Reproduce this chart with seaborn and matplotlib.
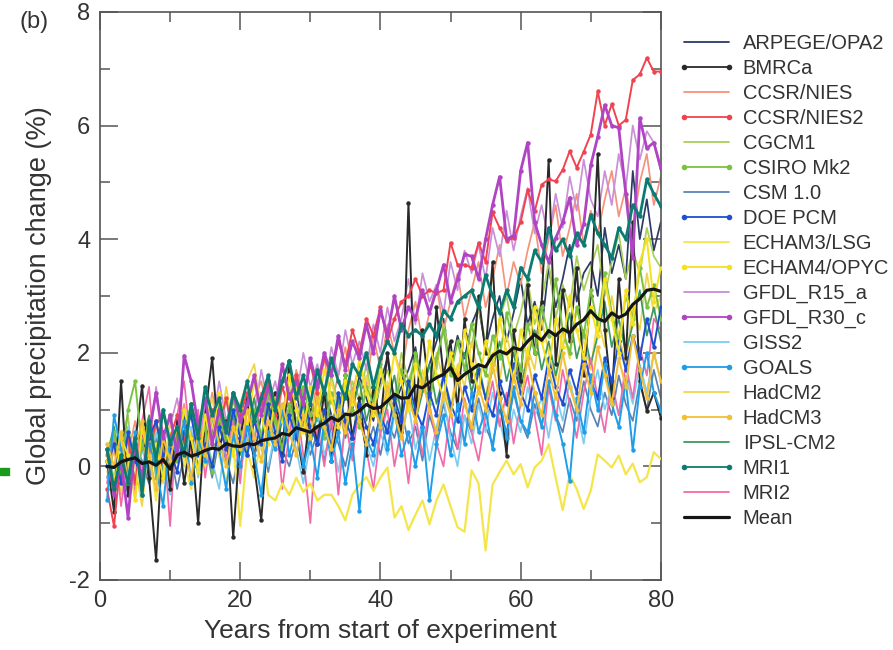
import matplotlib
matplotlib.use('Agg')
import matplotlib.pyplot as plt
import seaborn as sns
from matplotlib.lines import Line2D
from matplotlib.patches import Rectangle
from matplotlib.ticker import MultipleLocator

sns.set_style('ticks')
plt.rcParams['font.family'] = ['Liberation Sans', 'DejaVu Sans']
plt.rcParams['axes.unicode_minus'] = False

years = list(range(1, 81))

models = ['ARPEGE/OPA2', 'BMRCa', 'CCSR/NIES', 'CCSR/NIES2', 'CGCM1', 'CSIRO Mk2',
          'CSM 1.0', 'DOE PCM', 'ECHAM3/LSG', 'ECHAM4/OPYC', 'GFDL_R15_a', 'GFDL_R30_c',
          'GISS2', 'GOALS', 'HadCM2', 'HadCM3', 'IPSL-CM2', 'MRI1', 'MRI2', 'Mean']

colors = ['#2b3a67', '#2a2a2a', '#f6927a', '#f2424f', '#a9cf5a', '#7cc242',
          '#5a83b5', '#1f4fd1', '#f4e64a', '#f6e21c', '#c98fd8', '#b044c2',
          '#7dcdf0', '#1e9de8', '#efd54a', '#f3bf35', '#3c9a60', '#0c7c73', '#f26aa9', '#151515']

with_marker = [False, True, False, True, False, True, False, True, False, True,
               False, True, False, True, False, True, False, True, False, False]

arpege = [0.2, 0.6, -0.2, 0.3, 0.1, 0.8, -0.3, 0.4, 0.6, 0.0,
          0.5, 0.9, 0.2, -0.1, 0.7, 0.4, 1.0, 0.3, 0.6, 1.1,
          0.5, 0.2, 0.9, 1.2, 0.6, 0.4, 1.0, 1.3, 0.7, 1.1,
          0.8, 1.4, 0.9, 0.6, 1.3, 1.0, 1.6, 1.2, 0.8, 1.5,
          1.9, 1.1, 1.4, 1.7, 2.1, 1.3, 1.8, 2.2, 2.6, 1.7,
          2.3, 1.9, 2.5, 2.8, 2.1, 2.6, 3.0, 2.2, 2.7, 3.3,
          2.5, 2.9, 2.4, 3.5, 2.8, 3.3, 3.9, 2.9, 3.4, 3.6,
          3.0, 4.2, 3.4, 3.9, 3.3, 5.2, 4.0, 4.7, 3.8, 4.3]
bmrca = [0.1, -0.8, 1.5, -0.5, 0.4, 1.42, -0.2, -1.65, 0.6, -0.4,
         0.8, -0.3, 0.5, -1.0, 0.9, 1.91, 0.3, 0.8, -1.25, 0.5,
         1.2, 0.0, -0.95, 0.7, 1.3, 0.2, 1.86, 0.6, -0.1, 1.0,
         0.4, 1.3, 0.1, 0.9, 1.6, 0.5, 1.2, 0.2, 1.4, 0.8,
         2.0, 1.1, 0.6, 4.64, 0.9, 2.4, 1.2, 2.8, 1.6, 2.2,
         1.0, 2.6, 1.5, 3.0, 2.0, 3.6, 1.3, 0.19, 2.4, 1.5,
         3.2, 2.0, 2.9, 5.4, 1.8, 3.1, 2.2, 3.5, 1.6, 3.0,
         5.5, 2.4, 1.2, 3.3, 1.9, 4.3, 1.5, 0.98, 1.3, 0.86]
ccsr = [0.1, -0.5, 0.6, 0.2, 0.8, 0.0, -0.3, 0.7, 1.0, 0.3,
        0.6, 1.1, 0.2, 0.9, 0.5, 1.3, 0.7, 0.4, 1.2, 0.8,
        0.3, 1.2, 1.5, 0.9, 0.6, 1.4, 1.0, 1.7, 1.2, 0.8,
        1.5, 1.9, 1.1, 1.6, 2.1, 1.3, 1.8, 1.4, 2.3, 1.7,
        2.5, 2.0, 1.6, 2.4, 2.9, 2.2, 2.7, 3.2, 2.4, 2.9,
        3.4, 2.6, 3.1, 3.6, 2.8, 3.3, 3.9, 3.0, 3.6, 3.2,
        3.8, 4.3, 3.4, 4.0, 4.6, 3.7, 4.2, 4.8, 3.9, 4.5,
        4.1, 4.7, 5.2, 4.4, 4.9, 4.2, 5.0, 5.5, 4.6, 5.1]
ccsr2 = [-0.4, -1.05, 0.2, 0.5, -0.3, 0.6, 0.2, 0.8, 0.1, 0.5,
         0.9, 0.4, 1.1, 0.6, 0.3, 1.0, 0.7, 1.2, 0.5, 0.9,
         1.3, 0.8, 1.1, 1.5, 0.9, 1.4, 1.0, 1.6, 1.2, 1.8,
         1.3, 1.9, 1.6, 2.2, 1.8, 2.4, 2.0, 2.6, 2.3, 2.8,
         2.2, 2.6, 2.9, 3.0, 3.3, 3.0, 3.1, 3.05, 3.1, 3.94,
         3.55, 3.55, 3.5, 3.94, 3.6, 4.47, 4.2, 3.97, 4.02, 4.3,
         4.86, 4.49, 4.96, 5.05, 5.02, 5.22, 5.55, 5.26, 5.54, 5.84,
         6.6, 6.0, 6.38, 6.0, 6.1, 6.8, 6.9, 7.19, 6.95, 6.95]
cgcm1 = [0.3, -0.2, 0.5, 0.9, -0.4, 0.4, 0.1, 0.8, 0.3, -0.1,
         0.7, 0.2, 1.0, 0.6, 0.1, 0.9, 0.5, 1.2, 0.4, 0.8,
         1.1, 0.5, 1.3, 0.7, 0.3, 1.0, 1.4, 0.8, 1.2, 0.6,
         1.3, 0.9, 1.6, 1.1, 0.7, 1.5, 1.2, 1.8, 1.0, 1.4,
         1.7, 1.2, 2.0, 1.5, 1.9, 1.3, 2.2, 1.7, 2.5, 1.9,
         1.6, 2.4, 2.1, 2.8, 2.2, 1.8, 2.6, 3.0, 2.3, 2.7,
         3.3, 2.5, 2.9, 3.6, 2.6, 3.2, 2.8, 3.7, 3.1, 3.5,
         3.9, 3.0, 3.6, 4.1, 3.3, 3.8, 3.4, 4.2, 3.7, 3.5]
csiro = [0.2, 0.6, -0.1, 1.0, 1.5, 0.3, 0.8, -0.2, 0.5, 0.9,
         0.1, 0.6, 1.1, 0.3, 0.7, -0.1, 0.9, 0.4, 1.2, 0.6,
         0.2, 1.0, 0.5, 1.3, 0.8, 0.3, 1.1, 0.6, 1.4, 0.9,
         1.2, 0.5, 1.3, 0.9, 1.6, 1.0, 0.7, 1.4, 1.1, 1.8,
         1.2, 0.9, 1.7, 1.3, 2.0, 1.5, 1.1, 1.9, 2.4, 1.6,
         2.2, 1.7, 2.5, 2.0, 1.6, 2.3, 1.9, 2.7, 2.1, 1.7,
         2.5, 2.0, 2.8, 2.3, 3.3, 2.4, 2.0, 2.8, 2.3, 3.1,
         2.5, 3.4, 2.7, 2.2, 3.0, 2.6, 3.5, 2.8, 3.2, 2.6]
csm = [-0.2, 0.3, 0.0, -0.5, 0.4, 0.1, -0.3, 0.5, -0.1, 0.3,
       -0.4, 0.2, 0.6, 0.0, 0.4, -0.2, 0.5, 0.1, -0.3, 0.4,
       0.7, 0.2, 0.5, -0.1, 0.6, 0.3, 0.0, 0.5, 0.8, 0.2,
       0.6, 0.1, 0.7, 0.4, 0.0, 0.6, 0.9, 0.3, 0.7, 0.2,
       0.8, 0.5, 1.0, 0.4, 0.7, 0.1, 0.9, 0.5, 1.1, 0.6,
       0.3, 0.9, 0.6, 1.2, 0.7, 0.4, 1.0, 0.6, 1.3, 0.8,
       0.5, 1.1, 0.7, 1.4, 0.9, 0.6, 1.2, 0.8, 1.5, 1.0,
       0.7, 1.3, 0.9, 1.6, 1.1, 0.8, 1.5, 1.0, 1.7, 1.2]
doe = [0.0, 0.4, -0.3, 0.6, 0.1, -0.2, 0.5, 0.8, 0.2, 0.3,
       -0.1, 0.6, 0.9, 0.2, 0.4, 0.0, 0.7, 0.3, 1.0, 0.5,
       0.2, 0.8, 0.4, 1.1, 0.6, 0.1, 0.9, 0.5, 1.2, 0.7,
       0.4, 1.0, 0.3, 1.3, 0.8, 0.5, 1.1, 0.7, 0.4, 0.9,
       0.6, 1.2, 0.8, 1.5, 1.0, 0.7, 1.3, 0.9, 1.6, 1.1,
       0.8, 1.4, 1.0, 1.7, 1.2, 0.9, 1.5, 1.1, 1.8, 1.3,
       1.0, 1.6, 1.2, 1.9, 1.4, 1.1, 1.7, 1.3, 2.0, 1.5,
       1.2, 1.9, 1.5, 2.2, 1.7, 2.3, 1.9, 2.6, 2.1, 2.8]
echam3 = [0.2, -0.3, 0.4, -0.1, 0.6, -0.4, 0.3, -0.6, 0.5, -0.2,
          0.7, 0.1, -0.4, 0.5, 0.0, 0.8, 0.2, -0.3, 0.4, -1.05,
          0.3, -0.2, 0.5, -0.5, -0.6, -0.3, -0.5, -0.2, -0.45, -0.3,
          -0.6, -0.5, -0.5, -0.7, -0.95, -0.5, -0.32, -0.19, -0.43, -0.2,
          -0.02, -0.9, -0.7, -1.12, -0.85, -0.6, -1.02, -0.6, -0.32, -0.7,
          -1.07, -1.15, -0.07, -0.3, -1.48, -0.32, -0.1, 0.1, -0.14, 0.04,
          -0.37, -0.02, 0.1, 0.39, -0.2, -0.77, -0.14, -0.4, -0.75, -0.43,
          0.21, 0.1, -0.02, 0.19, -0.14, 0.05, -0.28, -0.19, 0.25, 0.13]
echam4 = [0.1, -0.4, 0.5, 0.2, -0.6, 0.7, 0.1, 0.4, -0.2, 0.8,
          0.3, 1.0, 0.5, -0.1, 0.9, 0.4, 1.3, 0.6, 0.2, 1.1,
          0.7, 1.5, 0.9, 0.4, 1.2, 0.8, 1.6, 1.0, 0.6, 1.4,
          0.9, 1.7, 1.2, 0.7, 1.5, 1.1, 1.9, 1.3, 0.9, 1.7,
          1.2, 2.0, 1.5, 1.0, 1.8, 1.4, 2.2, 1.6, 1.2, 2.0,
          1.5, 2.4, 1.8, 1.3, 2.2, 1.7, 2.6, 2.0, 1.5, 2.4,
          1.9, 2.8, 2.2, 1.7, 2.6, 2.1, 3.0, 2.4, 1.9, 2.8,
          2.3, 3.3, 2.6, 2.0, 3.1, 2.5, 3.6, 4.0, 2.9, 3.5]
gfdl15 = [0.1, 0.4, -0.3, 0.5, -0.6, 0.8, 0.3, 1.4, 0.4, 0.7,
          1.2, 0.5, 0.9, 0.3, 1.1, 0.7, 1.5, 0.8, 1.2, 0.6,
          1.3, 0.9, 1.7, 1.1, 1.5, 0.9, 1.6, 1.2, 2.0, 1.4,
          1.8, 1.3, 2.1, 1.6, 2.4, 1.8, 2.2, 1.7, 2.5, 2.0,
          2.8, 2.2, 2.6, 3.3, 2.5, 3.4, 2.9, 3.2, 2.7, 3.6,
          3.1, 3.8, 3.4, 3.9, 3.3, 4.2, 3.7, 4.5, 3.8, 4.4,
          4.9, 4.1, 4.6, 4.0, 4.8, 4.2, 5.1, 4.5, 5.4, 4.7,
          4.4, 5.2, 4.6, 5.5, 4.9, 6.0, 5.4, 5.9, 5.7, 5.2]
gfdl30 = [0.3, -0.5, 0.1, -0.9, 0.4, -0.2, 0.6, 1.3, 0.5, 0.9,
          0.2, 1.95, 1.5, 0.7, 1.2, 0.4, 1.0, 0.6, 1.3, 0.8,
          1.1, 1.6, 0.9, 1.4, 1.0, 1.8, 1.2, 1.5, 1.1, 1.9,
          1.4, 2.0, 1.6, 2.3, 1.7, 2.2, 1.9, 2.5, 2.0, 2.76,
          2.3, 3.0, 2.4, 2.8, 2.6, 3.1, 2.7, 3.1, 3.55, 2.9,
          3.3, 3.73, 3.7, 3.3, 4.0, 4.6, 5.1, 4.0, 4.06, 5.2,
          5.7, 4.3, 3.9, 3.6, 4.02, 4.3, 4.73, 3.9, 4.26, 5.3,
          5.8, 6.36, 6.0, 5.96, 4.8, 3.67, 6.13, 5.6, 5.7, 5.25]
giss2 = [0.4, -0.3, 0.1, 0.7, -0.4, 0.3, -0.1, 0.6, 0.0, -0.5,
         0.4, 0.0, 0.7, -0.2, 0.5, 0.1, -0.4, 0.6, 0.2, -0.1,
         0.5, 0.9, 0.3, 0.0, 0.6, 0.2, 0.8, 0.3, -0.3, 0.4,
         0.9, 0.2, 0.6, -0.1, 0.7, 0.3, 1.0, 0.4, 0.0, 0.6,
         0.2, 0.9, 0.5, 1.1, 0.3, 0.8, 0.1, 0.7, 1.2, 0.5,
         0.0, 0.9, 0.4, 1.1, 0.6, 1.3, 0.8, 0.3, 1.0, 0.6,
         1.4, 0.9, 1.2, 0.5, 1.3, 0.8, 1.5, 1.0, 0.4, 1.2,
         1.7, 1.0, 1.4, 0.9, 1.6, 1.1, 1.8, 1.3, 2.0, 1.5]
goals = [-0.6, 0.9, 0.3, -0.2, 0.6, -0.5, 0.4, 0.0, -0.7, 0.5,
         0.2, 0.8, -0.3, 0.5, 0.1, 0.9, 0.3, -0.4, 0.6, 0.0,
         0.7, 0.2, -0.5, 0.6, 0.3, 1.0, 0.2, 0.7, 0.0, 0.5,
         -0.2, 0.8, 0.1, 0.6, -0.3, 0.4, -0.78, 0.5, 0.2, 0.9,
         0.3, 1.0, 0.2, 0.6, 0.0, 0.7, -0.6, 0.4, 0.9, 0.2,
         1.1, 0.4, 1.3, 0.6, 1.0, 0.3, 1.2, 0.5, 1.4, 0.8,
         0.6, 1.3, 0.7, 1.5, 0.9, 0.4, -0.25, 1.2, 0.6, 1.6,
         1.0, 1.8, 1.1, 0.7, 1.5, 0.28, 1.4, 2.0, 1.3, 0.98]
hadcm2 = [-0.1, 0.3, -0.5, 0.4, 0.0, -0.7, 0.5, 0.1, -0.3, 0.6,
          0.2, 1.0, 0.4, -0.1, 0.8, 1.2, 0.5, 1.4, 0.7, 1.1,
          1.5, 1.8, 1.0, 1.3, 0.6, 1.1, 0.7, 1.4, 0.9, 0.4,
          1.2, 0.8, 1.5, 1.0, 0.5, 1.3, 0.9, 1.6, 1.1, 0.7,
          1.5, 1.1, 1.8, 1.3, 0.9, 1.7, 1.2, 2.0, 1.5, 1.0,
          1.8, 1.4, 2.2, 1.6, 1.2, 2.0, 1.5, 2.3, 1.8, 1.3,
          2.1, 1.7, 2.6, 2.0, 1.5, 2.4, 1.9, 2.8, 2.2, 1.7,
          2.6, 2.1, 3.0, 2.3, 1.8, 2.8, 2.4, 3.4, 2.7, 3.0]
hadcm3 = [0.4, 0.0, 0.6, -0.3, 0.3, 0.8, 0.2, -0.4, 0.5, 0.1,
          0.7, 0.3, -0.2, 0.6, 0.2, 0.9, 0.4, 0.0, 0.7, 0.3,
          1.0, 0.5, 0.1, 0.8, 0.4, 1.1, 0.6, 0.2, 0.9, 0.5,
          1.2, 0.7, 0.3, 1.0, 0.6, 1.3, 0.8, 0.4, 1.1, 0.7,
          1.4, 0.9, 0.5, 1.2, 0.8, 1.5, 1.0, 0.6, 1.3, 0.9,
          1.6, 1.1, 0.7, 1.4, 1.0, 1.8, 1.2, 0.8, 1.6, 1.1,
          1.9, 1.3, 0.9, 1.7, 1.2, 2.0, 1.4, 1.0, 1.8, 1.3,
          2.1, 1.6, 1.1, 1.9, 1.4, 2.3, 1.7, 1.2, 2.0, 1.5]
ipsl = [0.2, 0.7, 0.0, 0.5, -0.3, 0.4, 0.9, 0.2, 0.6, -0.1,
        0.5, 1.0, 0.3, 0.8, 0.1, 0.6, 1.1, 0.4, 0.9, 0.2,
        0.7, 1.2, 0.5, 1.0, 0.3, 0.8, 1.3, 0.6, 1.1, 0.4,
        0.9, 1.4, 0.7, 1.2, 0.5, 1.0, 1.5, 0.8, 1.3, 0.6,
        1.1, 1.6, 0.9, 1.4, 0.8, 1.3, 1.8, 1.1, 1.6, 1.0,
        1.5, 2.0, 1.3, 1.8, 1.2, 1.7, 2.2, 1.5, 2.0, 1.4,
        1.9, 2.4, 1.7, 2.2, 1.6, 2.1, 2.7, 1.9, 2.4, 1.8,
        2.3, 2.9, 2.1, 2.6, 2.0, 2.5, 3.1, 2.3, 2.8, 2.2]
mri1 = [0.3, -0.4, 0.2, -0.3, 0.5, -0.5, 0.8, 0.1, 1.0, 0.4,
        0.7, 0.2, 1.1, 0.5, 1.4, 0.9, 1.2, 0.6, 1.3, 1.0,
        1.5, 0.8, 1.2, 1.6, 1.0, 1.5, 1.85, 1.2, 1.6, 1.1,
        1.7, 1.3, 1.9, 1.5, 1.2, 1.8, 1.6, 2.0, 1.4, 1.9,
        2.2, 2.0, 2.5, 2.3, 2.4, 2.3, 2.5, 2.3, 2.74, 2.6,
        2.9, 3.0, 3.1, 2.8, 3.37, 3.0, 2.7, 3.1, 2.8, 3.5,
        3.3, 3.8, 3.6, 4.2, 3.8, 4.0, 3.7, 4.1, 3.9, 4.43,
        4.1, 3.9, 3.67, 4.2, 4.0, 4.6, 4.4, 5.05, 4.8, 4.58]
mri2 = [-0.3, 0.5, -0.7, 0.2, -0.5, 0.8, 1.4, -0.2, 0.6, -1.05,
        0.9, 1.5, 0.3, 1.0, -0.2, 0.7, 1.2, 0.1, 0.8, -0.3,
        1.1, 0.4, 1.3, 0.5, 1.0, -0.4, 0.6, 1.1, 0.2, -1.0,
        0.7, 0.0, 0.9, -0.5, 0.8, 0.1, 1.2, 0.3, -0.4, 0.6,
        1.0, 0.0, 0.7, -0.3, 0.9, 0.2, 1.1, 0.4, 0.0, 1.0,
        0.3, 1.2, 0.6, 0.1, 0.9, 1.5, 0.7, 1.3, 0.4, 1.1,
        1.6, 0.9, 0.2, 1.4, 0.8, 1.7, 1.1, 0.5, 1.3, 1.9,
        1.2, 0.6, 1.5, 0.9, 1.8, 1.2, 2.1, 1.6, 2.6, 2.4]
mean = [0.00, -0.02, 0.08, 0.12, 0.15, 0.05, 0.08, 0.02, 0.12, -0.05,
        0.20, 0.25, 0.18, 0.22, 0.28, 0.32, 0.30, 0.40, 0.36, 0.35,
        0.40, 0.38, 0.45, 0.48, 0.50, 0.58, 0.55, 0.68, 0.64, 0.60,
        0.70, 0.76, 0.86, 0.80, 0.92, 0.90, 0.98, 1.09, 1.02, 1.04,
        1.15, 1.27, 1.20, 1.21, 1.42, 1.38, 1.48, 1.56, 1.62, 1.74,
        1.51, 1.62, 1.70, 1.79, 1.75, 1.95, 2.03, 1.98, 2.09, 2.05,
        2.20, 2.32, 2.22, 2.39, 2.30, 2.42, 2.35, 2.50, 2.58, 2.74,
        2.60, 2.55, 2.70, 2.62, 2.68, 2.85, 2.95, 3.10, 3.12, 3.08]

values = [arpege, bmrca, ccsr, ccsr2, cgcm1, csiro, csm, doe, echam3, echam4,
          gfdl15, gfdl30, giss2, goals, hadcm2, hadcm3, ipsl, mri1, mri2, mean]

text_color = '#333333'
fig = plt.figure(figsize=(8.93, 6.5), dpi=100)
ax = fig.add_axes([0.112, 0.1077, 0.628, 0.874])

handles = []
for name, vals, col, mk in zip(models, values, colors, with_marker):
    if name == 'Mean':
        lw, z = 2.3, 10
    elif name in ('MRI1', 'GFDL_R30_c'):
        lw, z = 2.0, 6
    elif name == 'ECHAM3/LSG':
        lw, z = 1.6, 3
    elif mk:
        lw, z = 1.4, 4
    else:
        lw, z = 1.25, 2
    sns.lineplot(x=years, y=vals, ax=ax, color=col, linewidth=lw,
                 marker='o' if mk else None, markersize=3.2 if mk else 0,
                 markeredgewidth=0, zorder=z, legend=False, errorbar=None)
    handles.append(Line2D([0], [0], color=col, linewidth=lw if name == 'Mean' else 1.3,
                          marker='o' if mk else None, markersize=4, markeredgewidth=0))

ax.set_xlim(0, 80)
ax.set_ylim(-2, 8)
ax.xaxis.set_major_locator(MultipleLocator(20))
ax.xaxis.set_minor_locator(MultipleLocator(10))
ax.yaxis.set_major_locator(MultipleLocator(2))
ax.yaxis.set_minor_locator(MultipleLocator(1))
ax.tick_params(which='both', direction='in', top=True, right=True, color='#555555',
               width=1.1, labelcolor=text_color)
ax.tick_params(which='major', length=13, labelsize=17, pad=7)
ax.tick_params(which='minor', length=7)
for sp in ax.spines.values():
    sp.set_color('#555555')
    sp.set_linewidth(1.2)

ax.set_xlabel('Years from start of experiment', fontsize=19, color=text_color)
ax.set_ylabel('Global precipitation change (%)', fontsize=19.5, color=text_color)
ax.xaxis.set_label_coords(0.5, -0.068)
ax.yaxis.set_label_coords(-0.085, 0.5)

fig.text(0.022, 0.966, '(b)', fontsize=17, color=text_color, va='center', ha='left')
fig.patches.append(Rectangle((0.0, 0.269), 0.0105, 0.011, transform=fig.transFigure,
                             color='#1a9a1a', zorder=5))

leg = fig.legend(handles, models, loc='upper left', bbox_to_anchor=(0.759, 0.947),
                 frameon=False, fontsize=14.5, handlelength=2.83, handletextpad=0.4,
                 labelspacing=0.295, numpoints=2, borderpad=0, borderaxespad=0)
for t in leg.get_texts():
    t.set_color(text_color)

fig.savefig('out.png', dpi=100)
